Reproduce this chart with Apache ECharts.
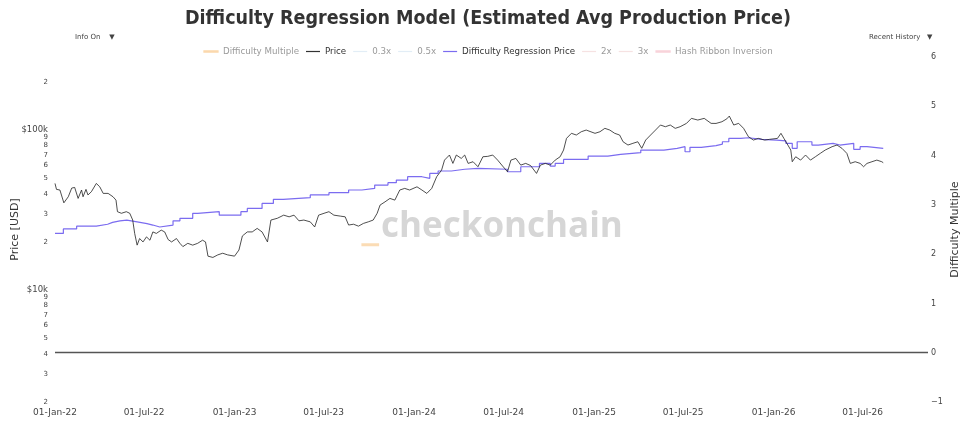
<!DOCTYPE html>
<html>
<head>
<meta charset="utf-8">
<script src="https://cdn.jsdelivr.net/npm/echarts@6/dist/echarts.min.js"></script>
<style>
  html, body { margin: 0; padding: 0; background: #fff; }
  #main { width: 976px; height: 427px; }
</style>
</head>
<body>
<div id="main"></div>
<script>
// BTC price (USD)
var priceDates = [
  '2022-01-01','2022-01-04','2022-01-11','2022-01-19','2022-01-28','2022-02-04','2022-02-10','2022-02-17',
  '2022-02-24','2022-02-27','2022-03-05','2022-03-09','2022-03-16','2022-03-26','2022-04-02','2022-04-09',
  '2022-04-19','2022-04-29','2022-05-05','2022-05-08','2022-05-16','2022-05-26','2022-06-02','2022-06-08',
  '2022-06-12','2022-06-17','2022-06-22','2022-06-29','2022-07-06','2022-07-13','2022-07-19','2022-07-26',
  '2022-08-05','2022-08-12','2022-08-19','2022-08-26','2022-09-05','2022-09-12','2022-09-18','2022-09-28',
  '2022-10-08','2022-10-18','2022-10-28','2022-11-03','2022-11-08','2022-11-18','2022-11-28','2022-12-08',
  '2022-12-18','2023-01-01','2023-01-10','2023-01-17','2023-01-27','2023-02-06','2023-02-16','2023-02-26',
  '2023-03-09','2023-03-16','2023-03-29','2023-04-11','2023-04-22','2023-05-02','2023-05-12','2023-05-22',
  '2023-06-04','2023-06-13','2023-06-21','2023-07-02','2023-07-12','2023-07-22','2023-08-04','2023-08-14',
  '2023-08-21','2023-08-31','2023-09-10','2023-09-20','2023-09-30','2023-10-10','2023-10-18','2023-10-24',
  '2023-11-03','2023-11-13','2023-11-23','2023-12-03','2023-12-13','2023-12-23','2024-01-07','2024-01-17',
  '2024-01-27','2024-02-06','2024-02-16','2024-02-26','2024-03-03','2024-03-13','2024-03-20','2024-03-27',
  '2024-04-06','2024-04-13','2024-04-20','2024-04-30','2024-05-10','2024-05-20','2024-05-30','2024-06-09',
  '2024-06-19','2024-06-29','2024-07-09','2024-07-16','2024-07-26','2024-08-05','2024-08-15','2024-08-25',
  '2024-09-06','2024-09-14','2024-09-24','2024-10-04','2024-10-14','2024-10-24','2024-10-31','2024-11-06',
  '2024-11-16','2024-11-26','2024-12-06','2024-12-16','2025-01-03','2025-01-13','2025-01-23','2025-02-02',
  '2025-02-12','2025-02-22','2025-03-01','2025-03-11','2025-03-21','2025-03-31','2025-04-08','2025-04-16',
  '2025-04-26','2025-05-06','2025-05-16','2025-05-26','2025-06-05','2025-06-15','2025-06-25','2025-07-08',
  '2025-07-18','2025-07-31','2025-08-13','2025-08-27','2025-09-06','2025-09-18','2025-09-28','2025-10-03',
  '2025-10-12','2025-10-22','2025-11-01','2025-11-11','2025-11-21','2025-12-01','2025-12-14','2025-12-24',
  '2026-01-09','2026-01-16','2026-01-22','2026-01-30','2026-02-05','2026-02-08','2026-02-15','2026-02-25',
  '2026-03-07','2026-03-17','2026-03-27','2026-04-06','2026-04-16','2026-04-30','2026-05-10','2026-05-20',
  '2026-05-30','2026-06-06','2026-06-16','2026-06-26','2026-07-03','2026-07-10','2026-07-20','2026-07-30',
  '2026-08-09','2026-08-12'
];
var priceValues = [
  46400,42600,42200,35100,38300,43400,43800,37400,
  42200,38300,42600,39300,41200,46400,44200,40200,
  40200,38300,36500,30900,30200,30900,30200,27400,
  22600,19100,21000,20000,21500,20500,23100,22600,
  23700,23100,20700,20000,21000,19600,18700,19600,
  19100,19600,20500,20000,16300,16000,16600,17000,
  16600,16300,17800,21800,23100,23100,24300,23100,
  20000,27400,28100,29400,28700,29400,27100,27400,
  26700,24800,29400,30200,30900,29400,29000,28700,
  25500,25800,25100,26100,26700,27400,30200,34000,
  35600,37400,36500,42200,43200,42200,44200,42200,
  40200,43200,51100,56200,64900,69800,61900,69800,
  66500,69800,61900,63400,59000,68100,68500,69800,
  64900,59600,54900,64900,66500,60400,61900,60000,
  53600,60400,61900,60400,64900,68100,75000,88700,
  95400,93100,97600,100000,95400,97600,102500,100000,
  95400,93100,84500,80600,82600,84500,76900,86600,
  93100,100000,107500,104900,107500,102500,104900,110100,
  118300,115500,118300,110100,110000,112700,117500,122300,
  107500,110100,102500,90800,86600,88700,86600,87500,
  88700,95400,88700,80600,75000,63400,68100,64900,
  69800,64900,68100,71500,75000,78700,80600,76900,
  71500,61900,63400,61900,59000,61900,63400,64900,
  63400,62500
];

// Difficulty Regression Price (step changes, USD)
var regDates = [
  '2022-01-01','2022-01-18','2022-02-14','2022-03-26','2022-04-18','2022-04-28','2022-05-13','2022-05-27',
  '2022-06-17','2022-07-07','2022-07-19','2022-08-02','2022-08-29','2022-09-12','2022-10-08','2022-10-18',
  '2022-12-01','2023-01-14','2023-01-27','2023-02-26','2023-03-21','2023-04-10','2023-06-04','2023-07-12',
  '2023-08-21','2023-09-17','2023-10-13','2023-11-09','2023-11-26','2023-12-19','2024-01-17','2024-02-02',
  '2024-02-19','2024-03-17','2024-04-13','2024-05-10','2024-05-12','2024-07-09','2024-08-05','2024-09-12',
  '2024-10-04','2024-10-14','2024-10-31','2024-12-20','2025-01-29','2025-02-24','2025-04-06','2025-05-23',
  '2025-06-19','2025-07-05','2025-07-15','2025-08-07','2025-09-06','2025-09-19','2025-10-02','2025-10-26',
  '2025-11-11','2025-12-08','2026-01-07','2026-01-26','2026-02-08','2026-02-18','2026-03-20','2026-04-02',
  '2026-05-02','2026-05-16','2026-06-13','2026-06-26','2026-07-10','2026-08-12'
];
var regValues = [
  22600,24100,25100,25800,26500,27100,27400,26700,
  26000,25500,24800,25500,27100,28100,30200,30900,
  29400,30900,32400,34800,36900,37800,39300,40600,
  42200,43200,45300,46900,48700,51100,49900,53600,
  55500,56900,57600,59000,56900,54900,59000,61900,
  59600,61900,65500,68800,70500,72200,75000,76900,
  78700,73200,78000,80000,81700,84500,88700,89500,
  87500,86600,85500,82600,76900,84500,80600,82600,
  80600,82600,75800,78700,76900,76900
];

// Difficulty Multiple (only a short visible stretch)
var multDates = ['2023-09-16', '2023-10-22'];
var multValues = [2.19, 2.19];

var xLabelDates = ['2022-01-01','2022-07-01','2023-01-01','2023-07-01','2024-01-01','2024-07-01',
                   '2025-01-01','2025-07-01','2026-01-01','2026-07-01'];
var priceTicks = [2000,3000,4000,5000,6000,7000,8000,9000,10000,20000,30000,40000,50000,60000,70000,80000,90000,100000,200000];
var monthNames = ['Jan','Feb','Mar','Apr','May','Jun','Jul','Aug','Sep','Oct','Nov','Dec'];

function ts(s) { var p = s.split('-'); return Date.UTC(+p[0], +p[1] - 1, +p[2]); }
function zip(d, v) { return d.map(function (x, i) { return [ts(x), v[i]]; }); }

var myChart = echarts.init(document.getElementById('main'));
var greyText = { color: '#9a9a9a' };
var darkText = { color: '#333' };

var option = {
    animation: false,
    textStyle: { fontFamily: 'DejaVu Sans' },
    title: {
        text: 'Difficulty Regression Model (Estimated Avg Production Price)',
        left: 'center',
        top: 4,
        textStyle: { fontFamily: 'DejaVu Sans Condensed', fontWeight: 'bold', fontSize: 19.5, color: '#333' }
    },
    legend: {
        top: 42,
        left: 'center',
        icon: 'rect',
        itemWidth: 14,
        itemHeight: 1.2,
        itemGap: 7,
        textStyle: { fontSize: 8.7, color: '#333' },
        data: [
            { name: 'Difficulty Multiple', textStyle: greyText, itemStyle: { borderWidth: 1.3, borderColor: '#fbd8ad' } },
            { name: 'Price', textStyle: darkText },
            { name: '0.3x', textStyle: greyText },
            { name: '0.5x', textStyle: greyText },
            { name: 'Difficulty Regression Price', textStyle: darkText },
            { name: '2x', textStyle: greyText },
            { name: '3x', textStyle: greyText },
            { name: 'Hash Ribbon Inversion', textStyle: greyText, itemStyle: { borderWidth: 1.3, borderColor: '#f8d3da' } }
        ]
    },
    graphic: [
        { type: 'text', left: 75, top: 34, style: { text: 'Info On    \u25BC', fontSize: 7, fill: '#444', fontFamily: 'DejaVu Sans' } },
        { type: 'text', left: 869, top: 34, style: { text: 'Recent History   \u25BC', fontSize: 7, fill: '#444', fontFamily: 'DejaVu Sans' } },
        { type: 'text', left: 381, top: 210, z: 0, style: { text: 'checkonchain', fontSize: 35, fontWeight: 'bold', fill: '#d6d6d6', fontFamily: 'Open Sans' } }
    ],
    grid: { left: 55, right: 48, top: 57, bottom: 25, containLabel: false, outerBoundsMode: 'none' },
    xAxis: {
        type: 'value',
        min: ts('2022-01-01'),
        max: ts('2026-11-11'),
        axisLine: { show: false },
        axisTick: { show: false },
        splitLine: { show: false },
        axisLabel: {
            customValues: xLabelDates.map(ts),
            fontSize: 9,
            color: '#444',
            margin: 6,
            formatter: function (v) {
                var d = new Date(v);
                var dd = d.getUTCDate();
                return (dd < 10 ? '0' + dd : dd) + '-' + monthNames[d.getUTCMonth()] + '-' + String(d.getUTCFullYear()).slice(2);
            }
        }
    },
    yAxis: [
        {
            type: 'log',
            logBase: 10,
            min: 2000,
            max: 286000,
            name: 'Price [USD]',
            nameLocation: 'middle',
            nameGap: 34,
            nameMoveOverlap: false,
            nameTextStyle: { fontSize: 11, color: '#333' },
            axisLine: { show: false },
            axisTick: { show: false },
            splitLine: { show: false },
            axisLabel: {
                customValues: priceTicks,
                fontSize: 7,
                color: '#444',
                margin: 7,
                formatter: function (v) {
                    var r = Math.round(v);
                    if (r === 10000) return '{b|$10k}';
                    if (r === 100000) return '{b|$100k}';
                    return String(r).charAt(0);
                },
                rich: { b: { fontSize: 8.5, color: '#444' } }
            }
        },
        {
            type: 'value',
            min: -1,
            max: 6,
            interval: 1,
            position: 'right',
            name: 'Difficulty Multiple',
            nameLocation: 'middle',
            nameGap: 22,
            nameMoveOverlap: false,
            nameTextStyle: { fontSize: 11, color: '#333' },
            axisLine: { show: false },
            axisTick: { show: false },
            splitLine: { show: false },
            axisLabel: {
                fontSize: 8,
                color: '#444',
                margin: 3,
                formatter: function (v) { return v < 0 ? '\u2212' + Math.abs(v) : String(v); }
            }
        }
    ],
    series: [
        {
            name: 'Difficulty Multiple',
            type: 'line',
            yAxisIndex: 1,
            symbol: 'none',
            data: zip(multDates, multValues),
            lineStyle: { color: '#fbdcb5', width: 3 },
            itemStyle: { color: '#fbd8ad' },
            markLine: {
                silent: true,
                symbol: 'none',
                label: { show: false },
                lineStyle: { color: '#555', width: 1.3, type: 'solid' },
                data: [{ yAxis: 0 }]
            }
        },
        {
            name: 'Price',
            type: 'line',
            yAxisIndex: 0,
            symbol: 'none',
            data: zip(priceDates, priceValues),
            lineStyle: { color: '#222', width: 0.8 },
            itemStyle: { color: '#333' },
            z: 3
        },
        { name: '0.3x', type: 'line', symbol: 'none', data: [], lineStyle: { color: '#e4eef6', width: 1 }, itemStyle: { color: '#e2edf6' } },
        { name: '0.5x', type: 'line', symbol: 'none', data: [], lineStyle: { color: '#e4eef6', width: 1 }, itemStyle: { color: '#e2edf6' } },
        {
            name: 'Difficulty Regression Price',
            type: 'line',
            yAxisIndex: 0,
            symbol: 'none',
            step: 'end',
            data: zip(regDates, regValues),
            lineStyle: { color: '#7b6cf0', width: 1.2 },
            itemStyle: { color: '#7b6cf0' },
            z: 2
        },
        { name: '2x', type: 'line', symbol: 'none', data: [], lineStyle: { color: '#f6e4e4', width: 1 }, itemStyle: { color: '#f6e2e2' } },
        { name: '3x', type: 'line', symbol: 'none', data: [], lineStyle: { color: '#f6e4e4', width: 1 }, itemStyle: { color: '#f6e2e2' } },
        { name: 'Hash Ribbon Inversion', type: 'line', symbol: 'none', data: [], lineStyle: { color: '#f8d6dc', width: 3 }, itemStyle: { color: '#f8d3da' } }
    ]
};
myChart.setOption(option);
</script>
</body>
</html>
